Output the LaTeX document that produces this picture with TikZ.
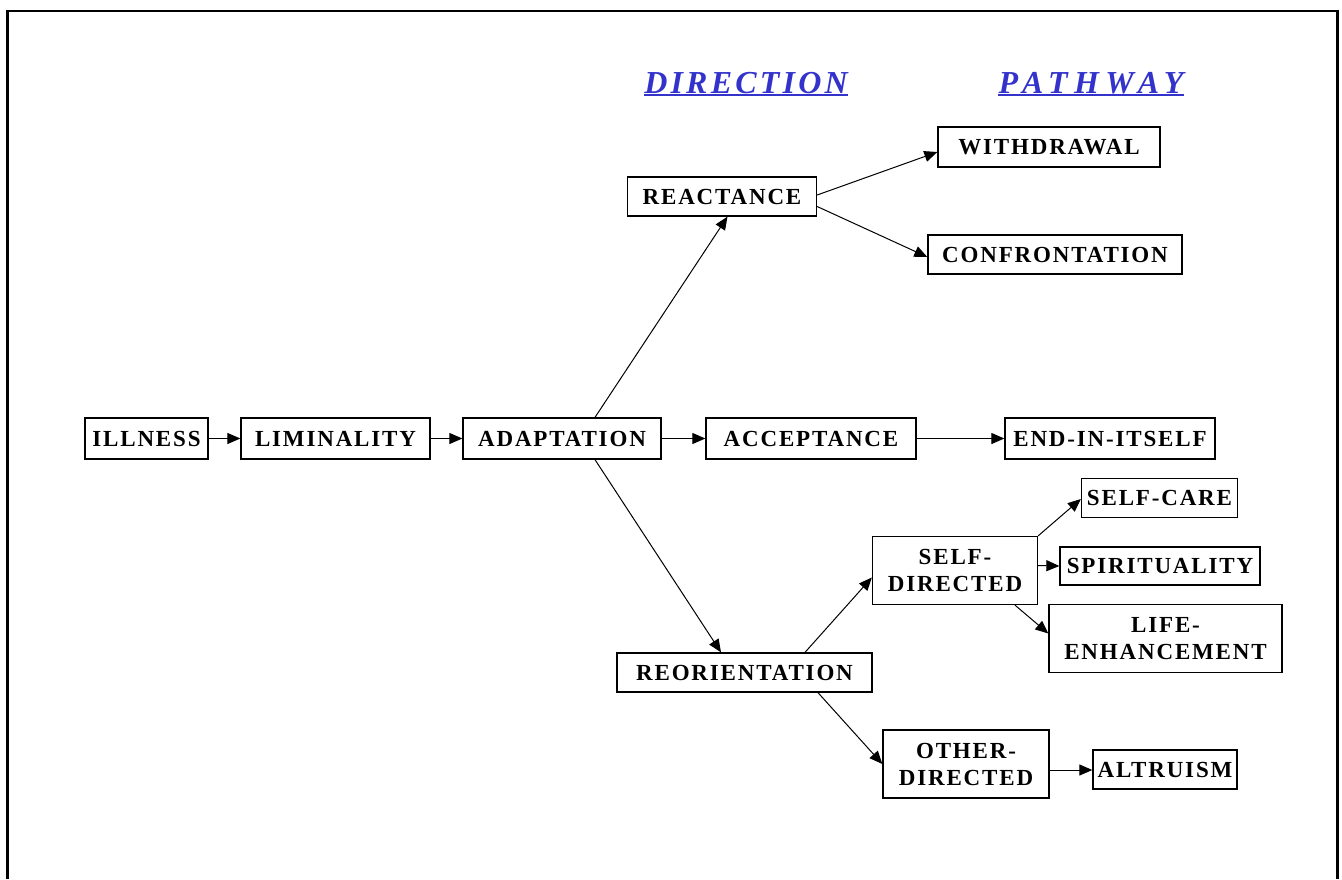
\documentclass[tikz,border=0pt]{standalone}
\usepackage{fontspec}
\setmainfont{Liberation Serif}
\newfontfamily\boxfont[LetterSpace=8]{Liberation Serif}
\newfontfamily\headfont[LetterSpace=10]{Liberation Serif}
\newfontfamily\pathfont[LetterSpace=20]{Liberation Serif}
\usetikzlibrary{arrows.meta,calc}
\definecolor{headblue}{RGB}{51,51,204}
\begin{document}
\begin{tikzpicture}[x=1pt,y=-1pt,
  box/.style={draw, line width=1.3pt, inner sep=0pt, align=center,
    font=\boxfont\bfseries\fontsize{23}{27}\selectfont},
  conn/.style={line width=1pt, -{Triangle[length=13pt,width=11pt]}},
  head/.style={inner sep=0pt, anchor=base, text=headblue},
  uline/.style={headblue, line width=2pt}]
\useasboundingbox (0,0) rectangle (1342,879);
% frame
\draw[line width=2.5pt] (7.5,879) -- (7.5,11) -- (1337.5,11) -- (1337.5,879);
% headers
\node[head, font=\headfont\bfseries\itshape\fontsize{32}{36}\selectfont] (dir) at (746,93) {DIRECTION};
\node[head, font=\pathfont\bfseries\itshape\fontsize{32}{36}\selectfont] (path) at (1091,93) {PATHWAY};
\draw[uline] ([yshift=-2pt]dir.base west) -- ([yshift=-2pt]dir.base east);
\draw[uline] ([yshift=-2pt]path.base west) -- ([yshift=-2pt]path.base east);
% boxes
\node[box, minimum width=123pt, minimum height=41pt] (ill) at (146.5,438.5) {ILLNESS};
\node[box, minimum width=189pt, minimum height=41pt] (lim) at (335.5,438.5) {LIMINALITY};
\node[box, minimum width=198pt, minimum height=41pt] (ada) at (562,438.5) {ADAPTATION};
\node[box, minimum width=210pt, minimum height=41pt] (acc) at (811,438.5) {ACCEPTANCE};
\node[box, minimum width=210pt, minimum height=41pt] (end) at (1110,438.5) {END-IN-ITSELF};
\node[box, minimum width=189pt, minimum height=39pt] (rea) at (722,196.5) {REACTANCE};
\node[box, minimum width=222pt, minimum height=40pt] (wit) at (1049,147) {WITHDRAWAL};
\node[box, minimum width=254pt, minimum height=39pt] (con) at (1055,254.5) {CONFRONTATION};
\node[box, minimum width=255pt, minimum height=39pt] (reo) at (744.5,672.5) {REORIENTATION};
\node[box, minimum width=165pt, minimum height=68pt] (sd) at (955,570.5) {SELF-\\DIRECTED};
\node[box, minimum width=156pt, minimum height=39pt] (sc) at (1159.5,498) {SELF-CARE};
\node[box, minimum width=200pt, minimum height=38pt] (spi) at (1160,566) {SPIRITUALITY};
\node[box, minimum width=233pt, minimum height=68pt] (life) at (1165.5,638.5) {LIFE-\\ENHANCEMENT};
\node[box, minimum width=166pt, minimum height=68pt] (od) at (966,764) {OTHER-\\DIRECTED};
\node[box, minimum width=144pt, minimum height=39pt] (alt) at (1165,769.5) {ALTRUISM};
% connectors
\draw[conn] (ill) -- (lim);
\draw[conn] (lim) -- (ada);
\draw[conn] (ada) -- (acc);
\draw[conn] (acc) -- (end);
\draw[conn] ([xshift=33pt]ada.north) -- ([xshift=5.5pt]rea.south);
\draw[conn] ([xshift=33pt]ada.south) -- ([xshift=-23.5pt]reo.north);
\draw[conn] ([yshift=1.5pt]rea.east) -- ([yshift=-5pt]wit.west);
\draw[conn] ([yshift=-10pt]rea.east) -- ([yshift=-2.5pt]con.west);
\draw[conn] ([xshift=60.5pt]reo.north) -- ([yshift=-7pt]sd.west);
\draw[conn] ([xshift=73.5pt]reo.south) -- (od.west);
\draw[conn] (sd.north east) -- ([yshift=-1pt]sc.west);
\draw[conn] ([yshift=5pt]sd.east) -- (spi.west);
\draw[conn] ([xshift=60pt]sd.south) -- ([yshift=5pt]life.west);
\draw[conn] ([yshift=-6pt]od.east) -- ([yshift=-0.5pt]alt.west);
\end{tikzpicture}
\end{document}
